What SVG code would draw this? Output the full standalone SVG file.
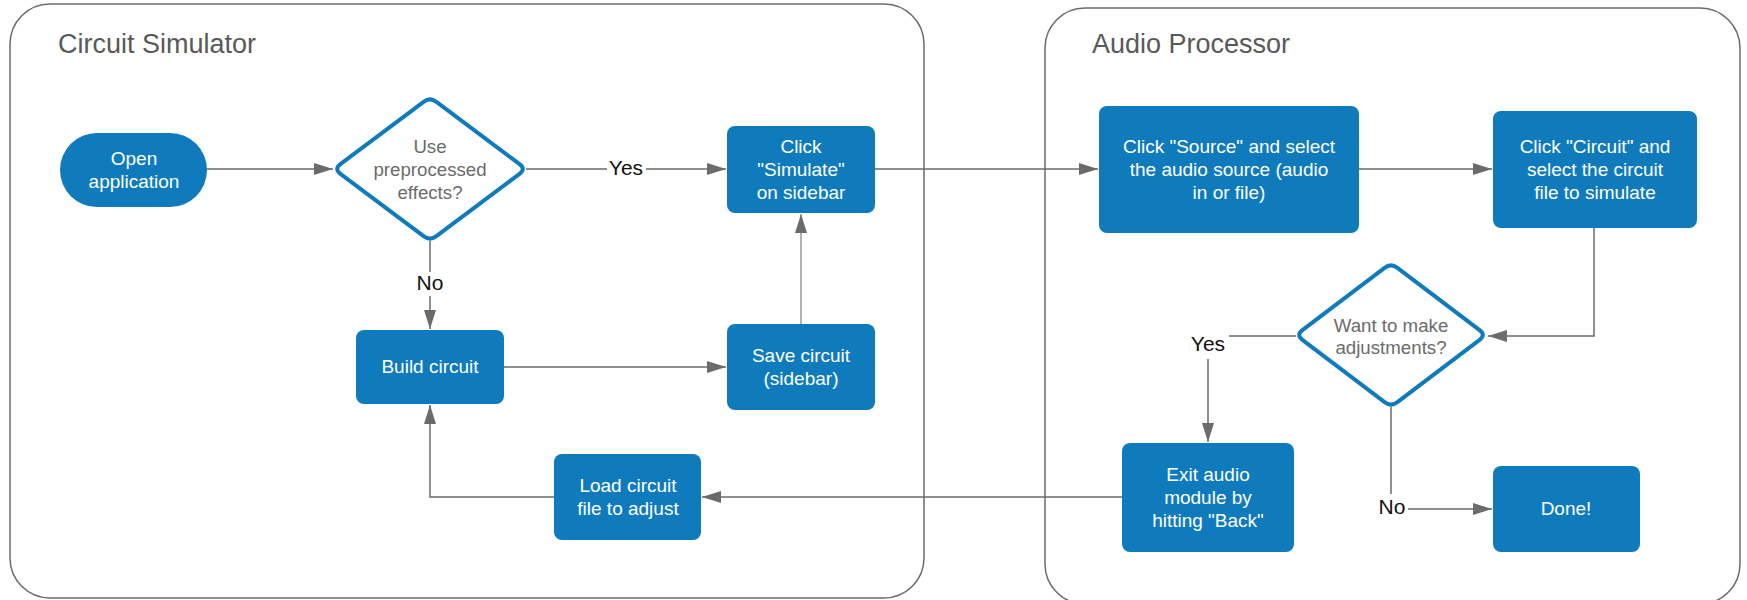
<svg xmlns="http://www.w3.org/2000/svg" width="1747" height="600" viewBox="0 0 1747 600">
<style>
.container{fill:#ffffff;stroke:#6b6b6b;stroke-width:1.5}
.title{font-family:"Liberation Sans",Arial,sans-serif;font-size:27px;fill:#595959}
.box{fill:#0f7bbd}
.diamond{fill:#ffffff;stroke:#0f7bbd;stroke-width:4;stroke-linejoin:round}
.t{font-family:"Liberation Sans",Arial,sans-serif;font-size:19px;fill:#ffffff;text-anchor:middle}
.dt{font-family:"Liberation Sans",Arial,sans-serif;font-size:18.7px;fill:#6b6b6b;text-anchor:middle}
.conn{fill:none;stroke:#6b6b6b;stroke-width:1.5}
.conn-light{fill:none;stroke:#9a9a9a;stroke-width:1.5}
.lbl{font-family:"Liberation Sans",Arial,sans-serif;font-size:21px;fill:#111111;text-anchor:middle}
.lblbg{fill:#ffffff}
</style>
<defs>
<marker id="arrow" viewBox="0 0 19 12" refX="19" refY="6" markerWidth="19" markerHeight="12" markerUnits="userSpaceOnUse" orient="auto">
<path d="M0,0 L19,6 L0,12 Z" fill="#6b6b6b"/>
</marker>
</defs>
<g id="container-circuit-simulator">
<rect class="container" x="10" y="4" width="914" height="594" rx="40" ry="40"/>
<text class="title" x="58" y="53">Circuit Simulator</text>
</g>
<g id="container-audio-processor">
<rect class="container" x="1045" y="8" width="695" height="596" rx="40" ry="40"/>
<text class="title" x="1092" y="53">Audio Processor</text>
</g>
<g id="connectors">
<path class="conn" d="M207,169 H333" marker-end="url(#arrow)"/>
<path class="conn" d="M526,169 H726" marker-end="url(#arrow)"/>
<path class="conn" d="M875,169 H1098" marker-end="url(#arrow)"/>
<path class="conn" d="M1359,169 H1492" marker-end="url(#arrow)"/>
<path class="conn" d="M1594,228 V336 H1488" marker-end="url(#arrow)"/>
<path class="conn" d="M1296,336 H1208 V442" marker-end="url(#arrow)"/>
<path class="conn" d="M1391,407 V509 H1492" marker-end="url(#arrow)"/>
<path class="conn" d="M1122,497 H702" marker-end="url(#arrow)"/>
<path class="conn" d="M554,497 H430 V405" marker-end="url(#arrow)"/>
<path class="conn" d="M430,241 V329" marker-end="url(#arrow)"/>
<path class="conn" d="M504,367 H726" marker-end="url(#arrow)"/>
<path class="conn-light" d="M801,324 V214" marker-end="url(#arrow)"/>
<rect class="lblbg" x="607" y="156" width="39" height="24"/>
<text class="lbl" x="626" y="175">Yes</text>
<rect class="lblbg" x="414" y="272" width="32" height="24"/>
<text class="lbl" x="430" y="290">No</text>
<rect class="lblbg" x="1187" y="331" width="42" height="28"/>
<text class="lbl" x="1208" y="351">Yes</text>
<rect class="lblbg" x="1376" y="494" width="32" height="24"/>
<text class="lbl" x="1392" y="514">No</text>
</g>
<g id="open-application">
<rect class="box" x="60" y="133" width="147" height="74" rx="37" ry="37"/>
<text class="t" x="134" y="165">Open</text>
<text class="t" x="134" y="188">application</text>
</g>
<g id="use-preprocessed">
<path class="diamond" d="M436.4,101.8 L519.6,164.2 Q526,169 519.6,173.8 L436.4,236.2 Q430,241 423.6,236.2 L340.4,173.8 Q334,169 340.4,164.2 L423.6,101.8 Q430,97 436.4,101.8 Z"/>
<text class="dt" x="430" y="153">Use</text>
<text class="dt" x="430" y="176">preprocessed</text>
<text class="dt" x="430" y="199">effects?</text>
</g>
<g id="click-simulate">
<rect class="box" x="727" y="126" width="148" height="87" rx="8" ry="8"/>
<text class="t" x="801" y="153">Click</text>
<text class="t" x="801" y="176">"Simulate"</text>
<text class="t" x="801" y="199">on sidebar</text>
</g>
<g id="build-circuit">
<rect class="box" x="356" y="330" width="148" height="74" rx="8" ry="8"/>
<text class="t" x="430" y="373">Build circuit</text>
</g>
<g id="save-circuit">
<rect class="box" x="727" y="324" width="148" height="86" rx="8" ry="8"/>
<text class="t" x="801" y="362">Save circuit</text>
<text class="t" x="801" y="385">(sidebar)</text>
</g>
<g id="load-circuit">
<rect class="box" x="554" y="454" width="147" height="86" rx="8" ry="8"/>
<text class="t" x="628" y="492">Load circuit</text>
<text class="t" x="628" y="515">file to adjust</text>
</g>
<g id="click-source">
<rect class="box" x="1099" y="106" width="260" height="127" rx="8" ry="8"/>
<text class="t" x="1229" y="153">Click "Source" and select</text>
<text class="t" x="1229" y="176">the audio source (audio</text>
<text class="t" x="1229" y="199">in or file)</text>
</g>
<g id="click-circuit">
<rect class="box" x="1493" y="111" width="204" height="117" rx="8" ry="8"/>
<text class="t" x="1595" y="153">Click "Circuit" and</text>
<text class="t" x="1595" y="176">select the circuit</text>
<text class="t" x="1595" y="199">file to simulate</text>
</g>
<g id="want-adjustments">
<path class="diamond" d="M1397.4,267.8 L1479.6,330.2 Q1486,335 1479.6,339.8 L1397.4,402.2 Q1391,407 1384.6,402.2 L1302.4,339.8 Q1296,335 1302.4,330.2 L1384.6,267.8 Q1391,263 1397.4,267.8 Z"/>
<text class="dt" x="1391" y="332">Want to make</text>
<text class="dt" x="1391" y="354">adjustments?</text>
</g>
<g id="exit-audio">
<rect class="box" x="1122" y="443" width="172" height="109" rx="8" ry="8"/>
<text class="t" x="1208" y="481">Exit audio</text>
<text class="t" x="1208" y="504">module by</text>
<text class="t" x="1208" y="527">hitting "Back"</text>
</g>
<g id="done">
<rect class="box" x="1493" y="466" width="147" height="86" rx="8" ry="8"/>
<text class="t" x="1566" y="515">Done!</text>
</g>
</svg>
